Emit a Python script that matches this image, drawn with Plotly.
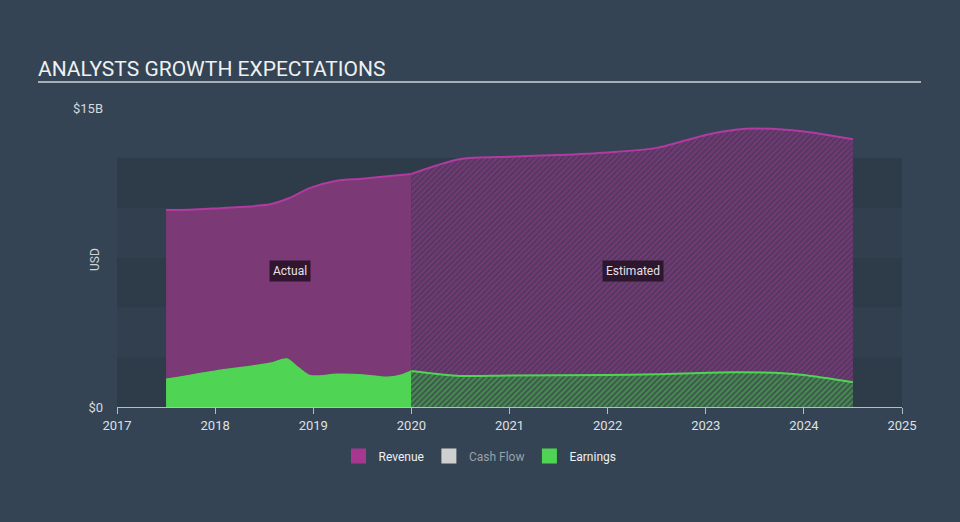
import plotly.graph_objects as go

# ---- data ----
rev_actual_x = [2017.5, 2017.75, 2018.0, 2018.25, 2018.56, 2018.75, 2018.97, 2019.24, 2019.5, 2019.81, 2020.0]
rev_actual_y = [9.88, 9.90, 9.96, 10.03, 10.17, 10.47, 10.99, 11.35, 11.45, 11.60, 11.69]

rev_est_x = [2020.0, 2020.5, 2021.0, 2021.5, 2022.0, 2022.5, 2023.0, 2023.3, 2023.5, 2024.0, 2024.5]
rev_est_y = [11.69, 12.44, 12.56, 12.64, 12.77, 13.00, 13.65, 13.91, 13.97, 13.82, 13.43]

earn_actual_x = [2017.5, 2018.0, 2018.56, 2018.73, 2018.85, 2018.97, 2019.24, 2019.51, 2019.75, 2019.9, 2020.0]
earn_actual_y = [1.39, 1.80, 2.19, 2.41, 1.96, 1.57, 1.64, 1.61, 1.49, 1.61, 1.81]

earn_est_x = [2020.0, 2020.5, 2021.0, 2022.0, 2022.5, 2023.28, 2023.79, 2024.0, 2024.5]
earn_est_y = [1.81, 1.56, 1.58, 1.60, 1.64, 1.74, 1.69, 1.60, 1.24]

year_ticks = [2017, 2018, 2019, 2020, 2021, 2022, 2023, 2024, 2025]
y_tickvals = [0, 15]
y_ticktext = ["$0", "$15B"]
band_edges = [0, 2.5, 5, 7.5, 10, 12.5]

BG = "#344454"
BAND_DARK = "#2e3c4a"
BAND_LIGHT = "#323f4e"
REV_LINE = "#b23aa0"
REV_FILL = "#7b3975"
EARN = "#4fd553"

fig = go.Figure()

# revenue actual
fig.add_trace(go.Scatter(x=rev_actual_x, y=rev_actual_y, mode="lines", fill="tozeroy",
                         line=dict(color=REV_LINE, width=2, shape="spline", smoothing=0.8),
                         fillcolor=REV_FILL, showlegend=False, hoverinfo="skip"))
# revenue estimated (hatched)
fig.add_trace(go.Scatter(x=rev_est_x, y=rev_est_y, mode="lines", fill="tozeroy",
                         line=dict(color=REV_LINE, width=2, shape="spline", smoothing=0.8),
                         fillpattern=dict(shape="/", fgcolor="#923d8b", bgcolor="#50375c",
                                          size=4, solidity=0.6),
                         showlegend=False, hoverinfo="skip"))
# earnings actual
fig.add_trace(go.Scatter(x=earn_actual_x, y=earn_actual_y, mode="lines", fill="tozeroy",
                         line=dict(color=EARN, width=1.5, shape="spline", smoothing=0.8),
                         fillcolor=EARN, showlegend=False, hoverinfo="skip"))
# earnings estimated (hatched)
fig.add_trace(go.Scatter(x=earn_est_x, y=earn_est_y, mode="lines", fill="tozeroy",
                         line=dict(color=EARN, width=2, shape="spline", smoothing=0.8),
                         fillpattern=dict(shape="/", fgcolor="#4cc850", bgcolor="#3e4e4e",
                                          size=4, solidity=0.6),
                         showlegend=False, hoverinfo="skip"))

# legend entries
legend_items = [
    ("Revenue", "#a8378f"),
    ("<span style='color:#98a1aa'>Cash Flow</span>", "#cfcfcf"),
    ("Earnings", EARN),
]
for name, col in legend_items:
    fig.add_trace(go.Scatter(x=[None], y=[None], mode="markers", name=name,
                             marker=dict(symbol="square", size=15, color=col)))

shapes = []
for i in range(len(band_edges) - 1):
    shapes.append(dict(type="rect", xref="x", yref="y", x0=2017, x1=2025,
                       y0=band_edges[i], y1=band_edges[i + 1],
                       fillcolor=BAND_DARK if i % 2 == 0 else BAND_LIGHT,
                       line=dict(width=0), layer="below"))
# title underline
shapes.append(dict(type="line", xref="paper", yref="paper",
                   x0=(38 - 117) / 785, x1=(921 - 117) / 785,
                   y0=(407 - 82) / 299, y1=(407 - 82) / 299,
                   line=dict(color="#a9afb5", width=2)))

annotations = [
    dict(x=2018.76, y=6.82, xref="x", yref="y", text="Actual", showarrow=False,
         font=dict(family="Roboto", size=12, color="#e8e0e8"),
         bgcolor="rgba(35,18,35,0.85)", borderpad=3),
    dict(x=2022.26, y=6.82, xref="x", yref="y", text="Estimated", showarrow=False,
         font=dict(family="Roboto", size=12, color="#e8e0e8"),
         bgcolor="rgba(35,18,35,0.85)", borderpad=3),
    dict(x=(86 - 117) / 785, y=(407 - 260) / 299, xref="paper", yref="paper",
         text="USD", textangle=-90, showarrow=False,
         font=dict(family="Roboto", size=12, color="#d0d4d8")),
]

fig.update_layout(
    width=960, height=522,
    paper_bgcolor=BG, plot_bgcolor=BG,
    margin=dict(l=117, r=58, t=108, b=115, autoexpand=False),
    title=dict(text="ANALYSTS GROWTH EXPECTATIONS", x=38 / 960, xref="container", xanchor="left",
               y=1 - 69 / 522, yref="container", yanchor="middle",
               font=dict(family="Roboto", size=21, color="#eef0f2")),
    xaxis=dict(range=[2017, 2025], tickvals=year_ticks, ticktext=[str(t) for t in year_ticks],
               showgrid=False, zeroline=False, showline=True, linecolor="#b4bcc4", linewidth=1,
               ticks="outside", ticklen=6, tickcolor="#b4bcc4",
               tickfont=dict(family="Roboto", size=13, color="#dde0e3")),
    yaxis=dict(range=[0, 15], tickvals=y_tickvals, ticktext=y_ticktext, showgrid=False,
               zeroline=False, showline=False, ticks="", ticklabelstandoff=13,
               tickfont=dict(family="Roboto", size=13, color="#d6dade")),
    legend=dict(orientation="h", xref="container", yref="container", x=0.5, y=1 - 456 / 522,
                xanchor="center", yanchor="middle", bgcolor="rgba(0,0,0,0)",
                font=dict(family="Roboto", size=12, color="#eef0f2"), itemclick=False,
                itemwidth=30, tracegroupgap=0),
    shapes=shapes, annotations=annotations,
    hovermode=False,
)

fig.write_html("out.html", config={"displayModeBar": False},
               post_script="document.body.style.margin='0';document.body.style.padding='0';")
